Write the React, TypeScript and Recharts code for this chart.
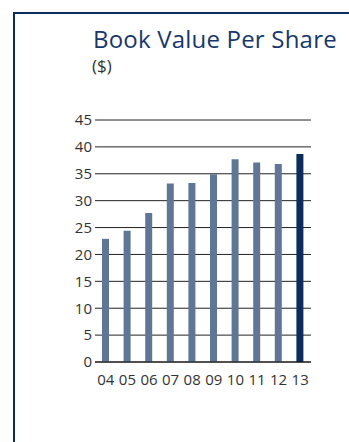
import { BarChart, Bar, XAxis, YAxis, CartesianGrid, Cell } from 'recharts';

const years = ['04', '05', '06', '07', '08', '09', '10', '11', '12', '13'];
const bookValue = [22.9, 24.4, 27.7, 33.2, 33.3, 34.9, 37.7, 37.1, 36.8, 38.7];
const yTicks = [0, 5, 10, 15, 20, 25, 30, 35, 40, 45];

const data = years.map((year, i) => ({ year, value: bookValue[i] }));

const navy = '#0b2d5e';
const steel = '#5f7696';
const font = '"Open Sans", "Noto Sans", sans-serif';

export default function App() {
  return (
    <div style={{ position: 'absolute', left: 0, top: 0, width: 349, height: 442, background: '#fff', fontFamily: font, overflow: 'hidden' }}>
      {/* panel frame: top and left rules */}
      <div style={{ position: 'absolute', left: 13, top: 12, width: 336, height: 2, background: navy }} />
      <div style={{ position: 'absolute', left: 13, top: 12, width: 2, height: 430, background: navy }} />

      <div style={{ position: 'absolute', left: 93, top: 24, fontSize: 24, letterSpacing: 0.2, color: '#17386b', lineHeight: '30px', whiteSpace: 'nowrap' }}>
        Book Value Per Share
      </div>
      <div style={{ position: 'absolute', left: 92, top: 57, fontSize: 17, color: '#333', lineHeight: '18px' }}>($)</div>

      <div style={{ position: 'absolute', left: 0, top: 0 }}>
        <BarChart width={349} height={442} data={data} margin={{ top: 120, right: 38, bottom: 50, left: 65 }}>
          <CartesianGrid horizontal vertical={false} stroke="#222" strokeWidth={1} />
          <XAxis
            dataKey="year"
            axisLine={{ stroke: '#111', strokeWidth: 1 }}
            tickLine={false}
            tickSize={6}
            tickMargin={6}
            height={30}
            interval={0}
            tick={{ fill: '#333', fontSize: 15, fontFamily: font }}
          />
          <YAxis
            domain={[0, 45]}
            ticks={yTicks}
            axisLine={false}
            tickLine={false}
            tickSize={1}
            tickMargin={2}
            width={30}
            interval={0}
            tick={{ fill: '#333', fontSize: 15, fontFamily: font }}
          />
          <Bar dataKey="value" barSize={7} isAnimationActive={false}>
            {data.map((d, i) => (
              <Cell key={d.year} fill={i === data.length - 1 ? navy : steel} />
            ))}
          </Bar>
        </BarChart>
      </div>
    </div>
  );
}
